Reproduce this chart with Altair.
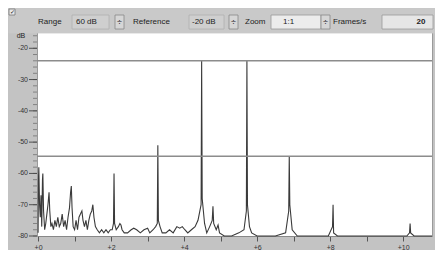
import altair as alt
import pandas as pd

# spectrum (frequency offset, level in dB)
freq = [0.00, 0.01, 0.02, 0.04, 0.06, 0.08, 0.10, 0.12, 0.13, 0.15, 0.18, 0.21, 0.24, 0.27, 0.30,
        0.32, 0.35, 0.38, 0.42, 0.46, 0.50, 0.54, 0.58, 0.62, 0.66, 0.70, 0.74, 0.78, 0.82, 0.86,
        0.89, 0.91, 0.93, 0.96, 1.00, 1.04, 1.08, 1.12, 1.16, 1.20, 1.23, 1.27, 1.31, 1.35, 1.39,
        1.43, 1.47, 1.50, 1.53, 1.57, 1.62, 1.68, 1.74, 1.80, 1.86, 1.92, 1.98, 2.03, 2.065, 2.08,
        2.095, 2.14, 2.20, 2.24, 2.27, 2.30, 2.36, 2.45, 2.55, 2.62, 2.70, 2.80, 2.90, 3.00, 3.06,
        3.15, 3.22, 3.265, 3.28, 3.295, 3.34, 3.40, 3.50, 3.60, 3.70, 3.80, 3.88, 3.95, 4.02, 4.10,
        4.20, 4.30, 4.38, 4.465, 4.48, 4.495, 4.56, 4.62, 4.70, 4.77, 4.79, 4.81, 4.88, 4.93, 4.97,
        5.10, 5.30, 5.50, 5.64, 5.705, 5.72, 5.735, 5.79, 5.85, 6.00, 6.50, 6.78, 6.865, 6.88, 6.895,
        6.96, 7.10, 7.95, 8.065, 8.08, 8.095, 8.20, 10.10, 10.175, 10.19, 10.205, 10.30, 10.79]
level = [-79, -62, -58, -70, -74, -67, -77, -62, -60, -72, -78, -76, -73, -70, -66,
         -72, -77, -76, -78, -75, -77, -74, -77, -76, -73, -77, -75, -78, -74, -71,
         -66, -64, -71, -77, -78, -75, -78, -74, -73, -72, -75, -77, -75, -78, -75,
         -73, -72, -70, -74, -77, -78, -79, -78, -79, -78, -79, -78, -78, -76, -60,
         -76, -78, -77, -76, -76.5, -78, -79, -79, -78, -77.5, -78, -79, -78, -77.5, -79,
         -78, -77, -76, -51, -75, -77, -79, -79, -78, -79, -77, -77.5, -77, -78, -79,
         -78, -77, -75, -70, -24, -68, -76, -79, -77, -75, -70.5, -76, -78, -76.5, -79,
         -80, -80, -79, -78, -72, -24, -70, -77, -79, -80, -80, -79, -72, -54.5, -70,
         -78, -80, -80, -77, -70, -79, -80, -80, -79, -76, -79, -80, -80]

ref_levels = [-24, -54.5]
y_major = [-20, -30, -40, -50, -60, -70, -80]
y_labels = ["-20", "-30", "-40", "-50", "-60", "-70", "-80"]
y_minor = [-80, -78, -76, -74, -72, -70, -68, -66, -64, -62, -60, -58, -56, -54, -52, -50,
           -48, -46, -44, -42, -40, -38, -36, -34, -32, -30, -28, -26, -24, -22, -20, -18, -16]
x_ticks = [0, 1, 2, 3, 4, 5, 6, 7, 8, 9, 10]

spec = pd.DataFrame({"f": freq, "db": level})
refs = pd.DataFrame({"db": ref_levels})
minors = pd.DataFrame({"db": y_minor})
majors = pd.DataFrame({"db": y_major, "lab": y_labels})

FONT = "Liberation Sans"
W, H = 395, 204

xs = alt.Scale(domain=[-0.03, 10.79], nice=False, zero=False)
ys = alt.Scale(domain=[-80, -14.8], nice=False, zero=False)

x_axis = alt.Axis(values=x_ticks, title=None, grid=False, tickSize=5, tickColor="#555",
                  domainColor="#888", labelFontSize=7, labelColor="#333", labelPadding=2,
                  labelOverlap=False,
                  labelExpr="datum.value % 2 == 0 ? '+' + datum.value : ''", labelFont=FONT)

line = alt.Chart(spec).mark_line(color="#3a3a3a", strokeWidth=1.1, interpolate="linear").encode(
    x=alt.X("f:Q", scale=xs, axis=x_axis),
    y=alt.Y("db:Q", scale=ys, axis=None),
)

rules = alt.Chart(refs).mark_rule(color="#8c8c8c", strokeWidth=1.5).encode(
    y=alt.Y("db:Q", scale=ys, axis=None),
)

minor = alt.Chart(minors).mark_rule(color="#666", strokeWidth=0.7).encode(
    y=alt.Y("db:Q", scale=ys, axis=None),
    x=alt.value(-4), x2=alt.value(0),
)

major_ticks = alt.Chart(majors).mark_rule(color="#444", strokeWidth=0.9).encode(
    y=alt.Y("db:Q", scale=ys, axis=None),
    x=alt.value(-8), x2=alt.value(0),
)

major_labels = alt.Chart(majors).mark_text(align="right", baseline="middle", font=FONT,
                                           fontSize=7, color="#333").encode(
    y=alt.Y("db:Q", scale=ys, axis=None),
    x=alt.value(-9),
    text="lab:N",
)

one = alt.Data(values=[{}])


def txt(s, x, y, size=8, weight="normal", align="left"):
    return alt.Chart(one).mark_text(text=s, align=align, baseline="middle", font=FONT,
                                    fontSize=size, fontWeight=weight, color="#222").encode(
        x=alt.value(x), y=alt.value(y))


def box(x1, x2, y1, y2, fill="#d6d6d6", stroke="#888"):
    return alt.Chart(one).mark_rect(fill=fill, stroke=stroke, strokeWidth=0.8).encode(
        x=alt.value(x1), x2=alt.value(x2), y=alt.value(y1), y2=alt.value(y2))


TY = -10
toolbar = [
    box(-28, 398, -24, 1, fill="#c9c9c9", stroke="#c9c9c9"),
    box(-28, -22, -23, -17, fill="#e8e8e8", stroke="#777"),
    txt("✓", -25, -20, size=6, align="center"),
    txt("Range", 1, TY),
    box(35, 72, -17, -3, fill="#cfcfcf", stroke="#b0b0b0"),
    txt("60 dB", 39, TY),
    box(78, 87, -17, -3),
    txt("÷", 82.5, TY, size=9, align="center"),
    txt("Reference", 96, TY),
    box(152, 187, -17, -3, fill="#cfcfcf", stroke="#b0b0b0"),
    txt("-20 dB", 155, TY),
    box(192, 201, -17, -3),
    txt("÷", 196.5, TY, size=9, align="center"),
    txt("Zoom", 208, TY),
    box(234, 284, -17, -3, fill="#ececec", stroke="#999"),
    txt("1:1", 246, TY),
    box(284, 293, -17, -3),
    txt("÷", 288.5, TY, size=9, align="center"),
    txt("Frames/s", 296, TY),
    box(345, 396, -17, -3, fill="#e6e6e6", stroke="#999"),
    txt("20", 384, TY, size=8, weight="bold", align="center"),
    txt("dB", -16, 4, size=7, align="center"),
]

chart = alt.layer(line, rules, minor, major_ticks, major_labels, *toolbar).properties(
    width=W, height=H,
    padding={"left": 29, "top": 24, "right": 3, "bottom": 14},
    autosize="none",
    background="#c3c3c3",
).configure_view(fill="white", stroke="#9a9a9a", strokeWidth=1)

chart.save("out.html", embed_options={"renderer": "svg", "actions": False})
